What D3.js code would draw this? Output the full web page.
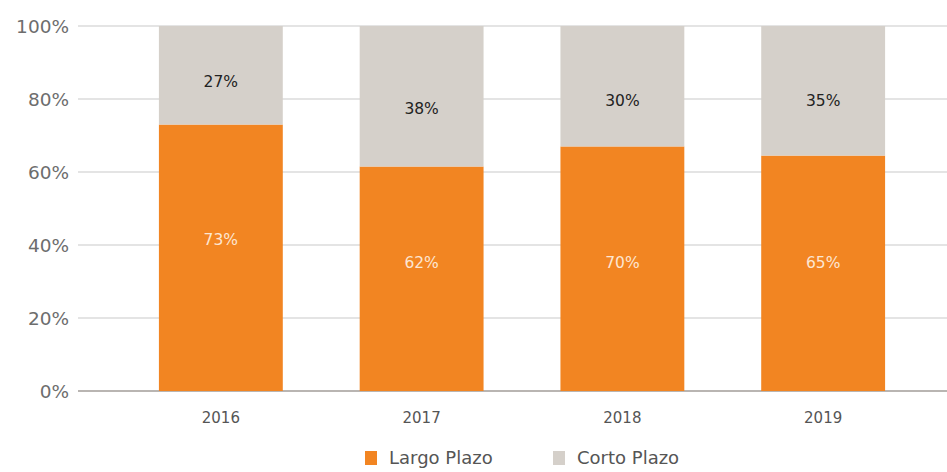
<!DOCTYPE html>
<html>
<head>
<meta charset="utf-8">
<script src="https://cdn.jsdelivr.net/npm/d3@7"></script>
<style>
  body { margin: 0; background: #fff; }
  svg { display: block; font-family: "DejaVu Sans", sans-serif; }
</style>
</head>
<body>
<div id="chart"></div>
<script>
// data
const years = ["2016", "2017", "2018", "2019"];
const largo = [73, 61.5, 67, 64.5];          // drawn height of the orange segment
const corto = [27, 38.5, 33, 35.5];          // remaining share up to 100
const largoText = ["73%", "62%", "70%", "65%"];
const cortoText = ["27%", "38%", "30%", "35%"];
const largoLabelAt = [41.4, 35.3, 35.3, 35.3];
const cortoLabelAt = [84.7, 77.5, 79.7, 79.7];
const yTicks = [0, 20, 40, 60, 80, 100];
const series = ["Largo Plazo", "Corto Plazo"];
const colors = ["#f28522", "#d5d0ca"];

const W = 947, H = 472;
const svg = d3.select("#chart").append("svg").attr("width", W).attr("height", H);

const x = d3.scaleBand().domain(years).range([78, 966]).paddingInner(0.383).paddingOuter(0.403);
const y = d3.scaleLinear().domain([0, 100]).range([391, 26]);

// grid
svg.append("g").selectAll("line").data(yTicks).join("line")
    .attr("x1", 78).attr("x2", W).attr("y1", d => y(d)).attr("y2", d => y(d))
    .attr("stroke", d => d === 0 ? "#a29c98" : "#c9c9c9").attr("stroke-width", d => d === 0 ? 1.5 : 1.2);

svg.append("g").selectAll("text").data(yTicks).join("text")
    .attr("x", 69).attr("y", d => y(d)).attr("dy", "0.36em").attr("text-anchor", "end")
    .attr("font-size", 18.5).attr("fill", "#6d6d6d").text(d => d + "%");

const stack = years.map((yr, i) => ({ yr, l: largo[i], c: corto[i], i }));

const bars = svg.append("g");
bars.selectAll("rect.l").data(stack).join("rect").attr("class", "l")
    .attr("x", d => x(d.yr)).attr("width", x.bandwidth())
    .attr("y", d => y(d.l)).attr("height", d => y(0) - y(d.l)).attr("fill", colors[0]);
bars.selectAll("rect.c").data(stack).join("rect").attr("class", "c")
    .attr("x", d => x(d.yr)).attr("width", x.bandwidth())
    .attr("y", d => y(d.l + d.c)).attr("height", d => y(d.l) - y(d.l + d.c)).attr("fill", colors[1]);

bars.selectAll("text.l").data(stack).join("text").attr("class", "l")
    .attr("x", d => x(d.yr) + x.bandwidth() / 2).attr("y", d => y(largoLabelAt[d.i])).attr("dy", "0.36em")
    .attr("text-anchor", "middle").attr("font-size", 15.5).attr("fill", "#fde6d2").text(d => largoText[d.i]);
bars.selectAll("text.c").data(stack).join("text").attr("class", "c")
    .attr("x", d => x(d.yr) + x.bandwidth() / 2).attr("y", d => y(cortoLabelAt[d.i])).attr("dy", "0.36em")
    .attr("text-anchor", "middle").attr("font-size", 15.5).attr("fill", "#222").text(d => cortoText[d.i]);

// x axis labels
svg.append("g").selectAll("text").data(years).join("text")
    .attr("x", d => x(d) + x.bandwidth() / 2).attr("y", 418).attr("dy", "0.36em")
    .attr("text-anchor", "middle").attr("font-size", 15).attr("fill", "#555").text(d => d);

// legend
const legX = [365, 553];
const leg = svg.append("g").selectAll("g").data(series).join("g")
    .attr("transform", (d, i) => `translate(${legX[i]},451)`);
leg.append("rect").attr("width", 12).attr("height", 14).attr("fill", (d, i) => colors[i]);
leg.append("text").attr("x", 24).attr("y", 7).attr("dy", "0.36em")
    .attr("font-size", 18).attr("fill", "#555").text(d => d);
</script>
</body>
</html>
